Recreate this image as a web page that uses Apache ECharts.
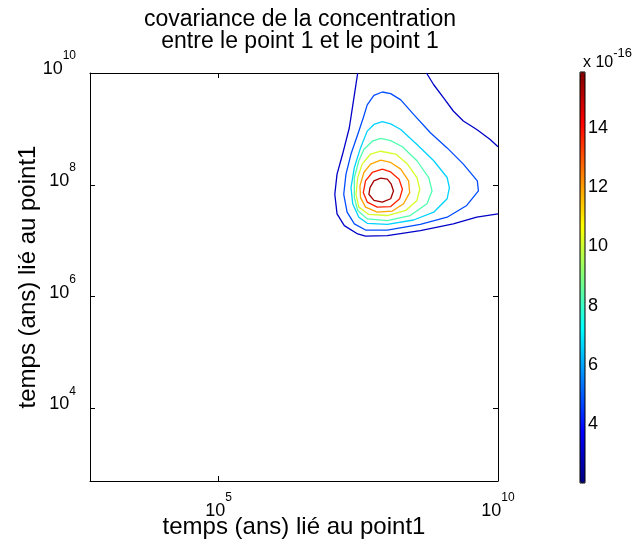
<!DOCTYPE html>
<html>
<head>
<meta charset="utf-8">
<script src="https://cdn.jsdelivr.net/npm/echarts@6/dist/echarts.min.js"></script>
<style>
  html, body { margin: 0; padding: 0; background: #fff; }
  #chart { width: 643px; height: 549px; }
</style>
</head>
<body>
<div id="chart"></div>
<script>
// axes are log10 of "temps (ans)"
const xTicks = [5, 10];
const yTicks = [4, 6, 8, 10];
const cbTicks = [4, 6, 8, 10, 12, 14];
const cbMin = 2.01, cbMax = 15.89;   // x 10^-16

// contour levels (x 10^-16), outermost first
const levels = [3.0, 4.8, 6.6, 8.3, 10.1, 11.9, 13.7, 15.4];

// contour lines [log10 x, log10 y]
const level1a = [[7.49,10.0],[7.43,9.61],[7.34,9.02],[7.22,8.55],[7.12,8.19],[7.08,7.83],[7.12,7.48],[7.25,7.27],[7.49,7.12],[7.63,7.08],[8.02,7.09],[8.61,7.18],[9.20,7.30],[9.62,7.42],[10.0,7.48]];
const level1b = [[8.72,10.0],[8.85,9.79],[9.03,9.55],[9.20,9.32],[9.38,9.14],[9.62,8.99],[9.86,8.81],[10.0,8.68]];
const level2 = [[7.93,9.66],[7.78,9.60],[7.66,9.43],[7.59,9.20],[7.49,8.90],[7.37,8.55],[7.28,8.19],[7.24,7.83],[7.30,7.51],[7.43,7.30],[7.63,7.19],[8.02,7.19],[8.61,7.29],[9.09,7.42],[9.44,7.63],[9.65,7.89],[9.63,8.07],[9.38,8.37],[9.09,8.66],[8.79,8.93],[8.49,9.26],[8.26,9.52],[8.08,9.63],[7.93,9.66]];
const level3 = [[7.93,9.13],[7.78,9.08],[7.66,8.96],[7.54,8.66],[7.43,8.31],[7.37,7.95],[7.40,7.66],[7.51,7.42],[7.66,7.31],[8.02,7.29],[8.49,7.37],[8.85,7.51],[9.09,7.75],[9.13,7.95],[9.09,8.13],[8.85,8.43],[8.55,8.72],[8.26,8.99],[8.08,9.09],[7.93,9.13]];
const level4 = [[7.90,8.83],[7.75,8.78],[7.60,8.63],[7.51,8.43],[7.43,8.13],[7.43,7.77],[7.49,7.54],[7.66,7.39],[8.02,7.36],[8.43,7.45],[8.73,7.66],[8.82,7.89],[8.76,8.13],[8.55,8.43],[8.29,8.68],[8.08,8.79],[7.90,8.83]];
const level5 = [[7.90,8.60],[7.72,8.55],[7.57,8.37],[7.49,8.13],[7.46,7.83],[7.51,7.60],[7.69,7.47],[8.02,7.45],[8.35,7.54],[8.55,7.72],[8.60,7.92],[8.55,8.13],[8.38,8.37],[8.17,8.55],[7.90,8.60]];
const level6 = [[7.90,8.44],[7.72,8.37],[7.60,8.22],[7.53,7.98],[7.54,7.77],[7.63,7.60],[7.84,7.51],[8.11,7.53],[8.31,7.66],[8.42,7.86],[8.40,8.07],[8.26,8.28],[8.08,8.40],[7.90,8.44]];
const level7 = [[7.93,8.28],[7.75,8.22],[7.63,8.07],[7.59,7.86],[7.66,7.69],[7.84,7.60],[8.08,7.61],[8.24,7.75],[8.29,7.92],[8.23,8.10],[8.08,8.23],[7.93,8.28]];
const level8 = [[7.90,8.12],[7.78,8.07],[7.71,7.95],[7.69,7.83],[7.78,7.72],[7.93,7.69],[8.08,7.75],[8.13,7.89],[8.09,8.01],[8.02,8.10],[7.90,8.12]];

const contours = [
  { level: 0, points: level1a },
  { level: 0, points: level1b },
  { level: 1, points: level2 },
  { level: 2, points: level3 },
  { level: 3, points: level4 },
  { level: 4, points: level5 },
  { level: 5, points: level6 },
  { level: 6, points: level7 },
  { level: 7, points: level8 }
];

// jet colormap, 9 evenly spaced stops
const jetStops = ['#00007f','#0000ff','#007fff','#00ffff','#7fff7f','#ffff00','#ff7f00','#ff0000','#7f0000'];

function jetColor(v) {
  let t = (v - cbMin) / (cbMax - cbMin) * (jetStops.length - 1);
  t = Math.max(0, Math.min(jetStops.length - 1, t));
  const i = Math.min(Math.floor(t), jetStops.length - 2);
  const f = t - i;
  const a = jetStops[i], b = jetStops[i + 1];
  const c = [1, 3, 5].map(function (k) {
    const ca = parseInt(a.substr(k, 2), 16), cb = parseInt(b.substr(k, 2), 16);
    return Math.round(ca + (cb - ca) * f);
  });
  return 'rgb(' + c.join(',') + ')';
}

const FONT = 'Liberation Sans, Arial, sans-serif';
function powRich(padBottom) {
  return {
    b: { fontSize: 18, fontFamily: FONT, color: '#000', padding: [10, 0, padBottom, 0] },
    e: { fontSize: 12, fontFamily: FONT, color: '#000', lineHeight: 12, verticalAlign: 'top' }
  };
}
function powLabel(v) { return '{b|10}{e|' + v + '}'; }

const chart = echarts.init(document.getElementById('chart'));

const axisLine = { show: true, lineStyle: { color: '#000', width: 1 } };

const option = {
  backgroundColor: '#fff',
  animation: false,
  title: [
    {
      text: 'covariance de la concentration\nentre le point 1 et le point 1',
      left: 300,
      textAlign: 'center',
      top: 9,
      padding: 0,
      textStyle: { fontSize: 23, fontWeight: 'normal', fontFamily: FONT, color: '#000', lineHeight: 22 }
    },
    {
      text: '{a|x 10}{s|-16}',
      left: 583,
      top: 47,
      padding: 0,
      textStyle: {
        fontWeight: 'normal',
        rich: {
          a: { fontSize: 16, fontWeight: 'normal', fontFamily: FONT, color: '#000', padding: [8, 0, 0, 0] },
          s: { fontSize: 13, fontWeight: 'normal', fontFamily: FONT, color: '#000', lineHeight: 12, verticalAlign: 'top' }
        }
      }
    }
  ],
  grid: [
    { left: 90, top: 73, width: 408, height: 408 },
    { left: 580, top: 72, width: 5, height: 411, show: true, borderColor: '#000', borderWidth: 1, backgroundColor: 'transparent', z: 5 }
  ],
  visualMap: {
    type: 'continuous',
    seriesIndex: [],
    min: cbMin,
    max: cbMax,
    left: 580,
    top: 72,
    itemWidth: 5,
    itemHeight: 411,
    padding: 0,
    calculable: false,
    showLabel: false,
    inRange: { color: jetStops }
  },
  xAxis: [
    {
      gridIndex: 0, type: 'value', min: 2.7, max: 10, position: 'bottom',
      axisLine: axisLine,
      axisTick: { inside: true, length: 5, customValues: xTicks, lineStyle: { color: '#000' } },
      axisLabel: { customValues: xTicks, formatter: powLabel, rich: powRich(0), margin: 11 },
      splitLine: { show: false },
      name: 'temps (ans) lié au point1', nameLocation: 'middle', nameGap: 34, nameMoveOverlap: false,
      nameTextStyle: { fontSize: 24, fontFamily: FONT, color: '#000' }
    },
    {
      gridIndex: 0, type: 'value', min: 2.7, max: 10, position: 'top',
      axisLine: axisLine,
      axisTick: { inside: true, length: 5, customValues: xTicks, lineStyle: { color: '#000' } },
      axisLabel: { show: false }, splitLine: { show: false }
    },
    { gridIndex: 1, type: 'value', show: false, min: 0, max: 1 }
  ],
  yAxis: [
    {
      gridIndex: 0, type: 'value', min: 2.7, max: 10, position: 'left',
      axisLine: axisLine,
      axisTick: { inside: true, length: 5, customValues: yTicks, lineStyle: { color: '#000' } },
      axisLabel: { customValues: yTicks, formatter: powLabel, rich: powRich(18), margin: 14 },
      splitLine: { show: false },
      name: 'temps (ans) lié au point1', nameLocation: 'middle', nameGap: 50, nameMoveOverlap: false,
      nameTextStyle: { fontSize: 24, fontFamily: FONT, color: '#000' }
    },
    {
      gridIndex: 0, type: 'value', min: 2.7, max: 10, position: 'right',
      axisLine: axisLine,
      axisTick: { inside: true, length: 5, customValues: yTicks, lineStyle: { color: '#000' } },
      axisLabel: { show: false }, splitLine: { show: false }
    },
    {
      gridIndex: 1, type: 'value', min: cbMin, max: cbMax, position: 'left',
      axisLine: { show: false },
      axisTick: { inside: true, length: 3, customValues: cbTicks, lineStyle: { color: '#000' } },
      axisLabel: { show: false }, splitLine: { show: false }
    },
    {
      gridIndex: 1, type: 'value', min: cbMin, max: cbMax, position: 'right',
      axisLine: { show: false },
      axisTick: { show: false },
      axisLabel: { customValues: cbTicks, margin: 3, fontSize: 18, fontFamily: FONT, color: '#000' },
      splitLine: { show: false }
    }
  ],
  series: contours.map(function (c) {
    return {
      type: 'line',
      xAxisIndex: 0,
      yAxisIndex: 0,
      data: c.points,
      showSymbol: false,
      symbol: 'none',
      smooth: false,
      clip: true,
      silent: true,
      lineStyle: { color: jetColor(levels[c.level]), width: 1.3 }
    };
  })
};

chart.setOption(option);
</script>
</body>
</html>
